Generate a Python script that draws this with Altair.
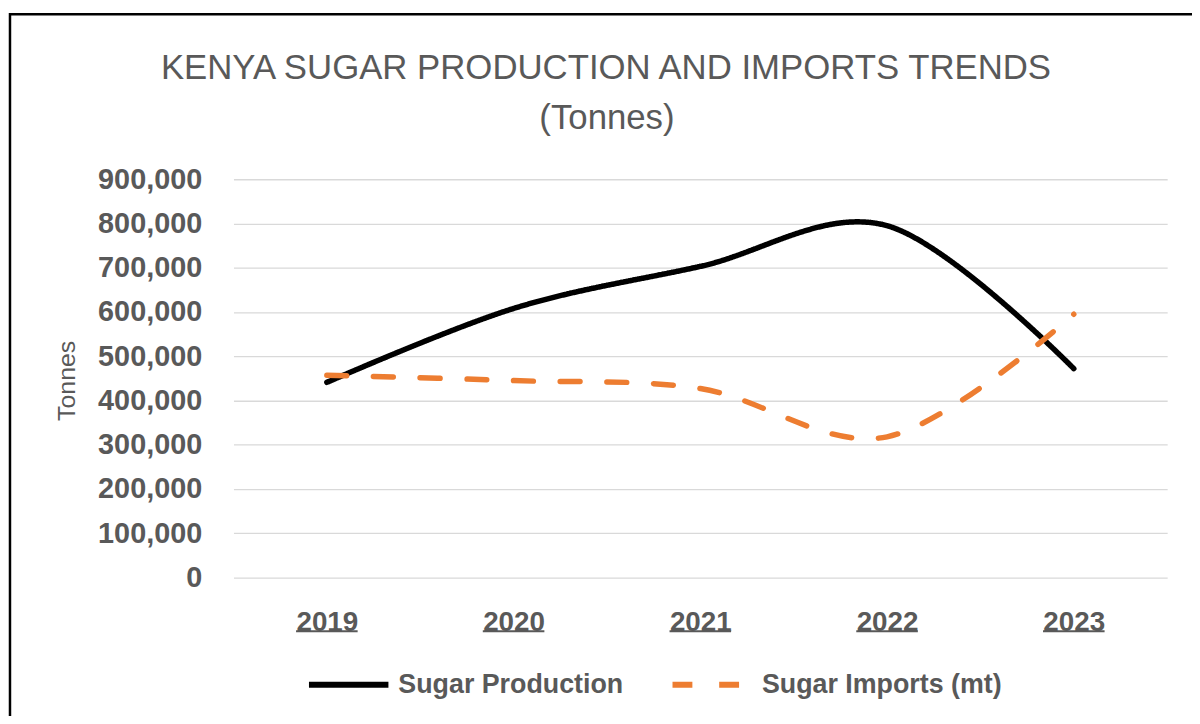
import altair as alt
import pandas as pd

# ---- data ----
years = ["2019", "2020", "2021", "2022", "2023"]
production = [441000, 608000, 703000, 795000, 472000]
imports = [457000, 445000, 427000, 318000, 595000]
series_names = ["Sugar Production", "Sugar Imports (mt)"]
y_ticks = [0, 100000, 200000, 300000, 400000, 500000, 600000, 700000, 800000, 900000]
title_lines = ["KENYA SUGAR PRODUCTION AND IMPORTS TRENDS", "(Tonnes)"]
y_title = "Tonnes"

rows = []
for yr, v in zip(years, production):
    rows.append({"Year": yr, "Series": series_names[0], "Tonnes": v})
for yr, v in zip(years, imports):
    rows.append({"Year": yr, "Series": series_names[1], "Tonnes": v})
df = pd.DataFrame(rows)
years_df = pd.DataFrame({"Year": years})
one_row = pd.DataFrame({"k": [0]})

W, H = 940, 401
TEXT = "#595959"
BOLD = "Liberation Sans, Arial, sans-serif"
TITLE_FONT = "Liberation Sans, Arial, sans-serif"

x_enc = alt.X(
    "Year:O",
    scale=alt.Scale(type="point", padding=0.5, domain=years),
    axis=alt.Axis(
        title=None, labelAngle=0, labelFont=BOLD, labelFontWeight="bold",
        labelFontSize=28, labelColor=TEXT, labelPadding=31, labelBaseline="top",
        ticks=False, tickSize=0, domain=False, grid=False,
    ),
)

y_enc = alt.Y(
    "Tonnes:Q",
    scale=alt.Scale(domain=[0, 900000], nice=False, zero=True),
    axis=alt.Axis(
        values=y_ticks, format=",.0f", title=y_title,
        labelFont=BOLD, labelFontWeight="bold", labelFontSize=29, labelColor=TEXT,
        labelPadding=32, ticks=False, tickSize=0, domain=False,
        grid=True, gridColor="#d9d9d9", gridWidth=1.3,
        titleFont=BOLD, titleFontWeight="normal", titleFontSize=25, titleColor=TEXT,
        titleAngle=-90, titleAlign="center", titleBaseline="middle",
        titleX=-168, titleY=H / 2 + 2,
    ),
)

legend = alt.Legend(
    title=None, orient="none", direction="horizontal",
    legendX=73, legendY=466,
    symbolType="stroke", symbolSize=6400, symbolStrokeWidth=6,
    labelFont=BOLD, labelFontWeight="bold", labelFontSize=27, labelColor=TEXT,
    labelOffset=7, columnPadding=37, padding=0, labelLimit=500,
)

lines = alt.Chart(df).mark_line(
    interpolate="cardinal", strokeWidth=5.5, strokeCap="round"
).encode(
    x=x_enc,
    y=y_enc,
    color=alt.Color("Series:N", scale=alt.Scale(domain=series_names, range=["#000000", "#ED7D31"]), legend=legend),
    strokeDash=alt.StrokeDash("Series:N", scale=alt.Scale(domain=series_names, range=[[1, 0], [20, 27]]), legend=legend),
)

underline = alt.Chart(years_df).mark_rule(
    color=TEXT, strokeWidth=2, xOffset=-31, x2Offset=31
).encode(
    x=alt.X("Year:O"),
    x2=alt.X2("Year"),
    y=alt.value(H + 54),
)

border = alt.Chart(one_row).mark_rect(
    fill=None, stroke="#000000", strokeWidth=2.5
).encode(
    x=alt.value(-225), x2=alt.value(1100),
    y=alt.value(-166), y2=alt.value(700),
)

title1 = alt.Chart(one_row).mark_text(
    font=TITLE_FONT, fontSize=35, color=TEXT, align="center", baseline="alphabetic"
).encode(x=alt.value(375), y=alt.value(-101), text=alt.value(title_lines[0]))

title2 = alt.Chart(one_row).mark_text(
    font=TITLE_FONT, fontSize=35, color=TEXT, align="center", baseline="alphabetic"
).encode(x=alt.value(376), y=alt.value(-51), text=alt.value(title_lines[1]))

chart = alt.layer(border, title1, title2, lines, underline).properties(
    width=W, height=H,
    background="white",
    autosize=alt.AutoSizeParams(type="none"),
    padding={"left": 227, "top": 170, "right": 25, "bottom": 137},
).configure_view(stroke=None)

chart.save("out.html", embed_options={"renderer": "svg", "actions": False})
